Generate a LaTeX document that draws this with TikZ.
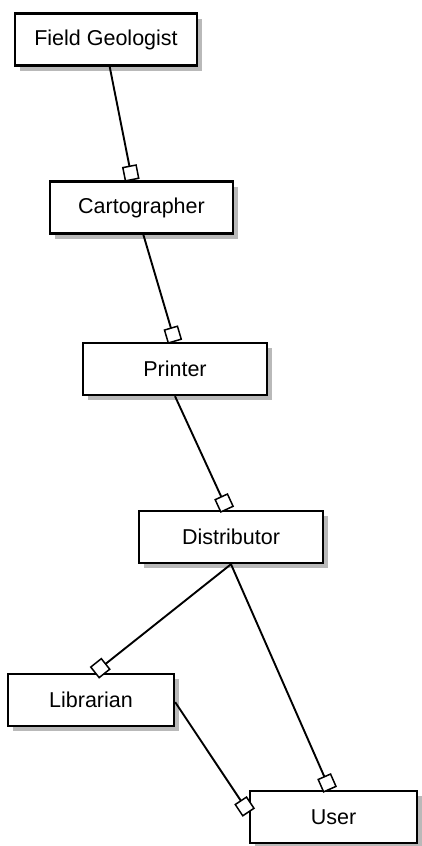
\documentclass[tikz,border=0pt]{standalone}
\usepackage{fontspec}
\setmainfont{Liberation Sans}
\usetikzlibrary{arrows.meta,shadows,calc}
\tikzset{
  ent/.style={draw=black, line width=2.4pt, fill=white, minimum height=52pt,
    inner sep=0pt, font=\fontsize{21.5}{24}\selectfont,
    drop shadow={shadow xshift=5pt, shadow yshift=-5pt, fill=gray!55, opacity=1}},
  link/.style={line width=1.9pt, -{Square[fill=white, length=15pt, width=15pt, line width=1.5pt]}}
}
\begin{document}
\begin{tikzpicture}[x=1pt,y=-1pt]
\useasboundingbox (0,0) rectangle (422,846);
\node[ent, minimum width=182pt] (fg) at (106,39.5) {Field Geologist};
\node[ent, minimum width=183pt] (ca) at (141.5,207.5) {Cartographer};
\node[ent, minimum width=184pt] (pr) at (175,369) {Printer};
\node[ent, minimum width=184pt] (di) at (231,537) {Distributor};
\node[ent, minimum width=166pt] (li) at (91,700) {Librarian};
\node[ent, minimum width=167pt] (us) at (333.5,817) {User};

\draw[link] ($(fg.south west)!0.52!(fg.south east)$) -- ($(ca.north west)!0.45!(ca.north east)$);
\draw[link] ($(ca.south west)!0.51!(ca.south east)$) -- ($(pr.north west)!0.50!(pr.north east)$);
\draw[link] ($(pr.south west)!0.50!(pr.south east)$) -- ($(di.north west)!0.48!(di.north east)$);
\draw[link] ($(di.south west)!0.50!(di.south east)$) -- ($(li.north west)!0.52!(li.north east)$);
\draw[link] ($(di.south west)!0.50!(di.south east)$) -- ($(us.north west)!0.48!(us.north east)$);
\draw[link] ($(li.north east)!0.54!(li.south east)$) -- ($(us.north west)!0.42!(us.south west)$);
\end{tikzpicture}
\end{document}
